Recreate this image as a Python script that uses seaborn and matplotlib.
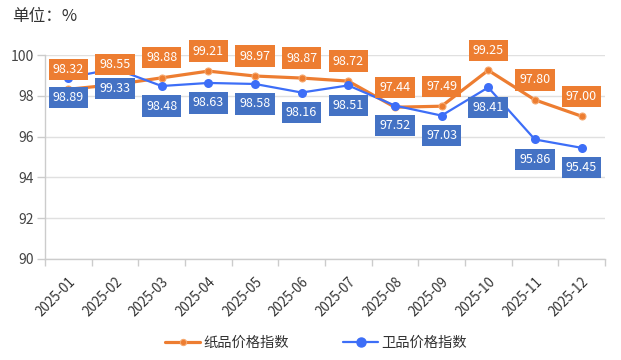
import matplotlib
matplotlib.use("Agg")
import matplotlib.pyplot as plt
import seaborn as sns
import pandas as pd
from matplotlib.lines import Line2D

months = ["2025-01", "2025-02", "2025-03", "2025-04", "2025-05", "2025-06",
          "2025-07", "2025-08", "2025-09", "2025-10", "2025-11", "2025-12"]
paper_index = [98.32, 98.55, 98.88, 99.21, 98.97, 98.87, 98.72, 97.44, 97.49, 99.25, 97.80, 97.00]
hygiene_index = [98.89, 99.33, 98.48, 98.63, 98.58, 98.16, 98.51, 97.52, 97.03, 98.41, 95.86, 95.45]
paper_name = "纸品价格指数"
hygiene_name = "卫品价格指数"

ORANGE = "#ED7D31"
ORANGE_EDGE = "#F5A86E"
BLUE = "#3D6EF7"
BLUE_BOX = "#4472C4"

sns.set_theme(style="white")
plt.rcParams["font.family"] = ["Noto Sans CJK SC", "DejaVu Sans"]

fig = plt.figure(figsize=(6.21, 3.6), dpi=100)
ax = fig.add_axes([0.0725, 0.2806, 0.9015, 0.5666])

df = pd.DataFrame({"month": months, paper_name: paper_index, hygiene_name: hygiene_index})

sns.lineplot(data=df, x="month", y=paper_name, ax=ax, color=ORANGE, linewidth=2.3,
             marker="o", markersize=5, markeredgecolor=ORANGE_EDGE, markeredgewidth=0.8,
             zorder=3, sort=False)
sns.lineplot(data=df, x="month", y=hygiene_name, ax=ax, color=BLUE, linewidth=1.6,
             marker="o", markersize=6.5, markeredgecolor=BLUE, markeredgewidth=0,
             zorder=4, sort=False)

# value labels: paper above, hygiene below
for i, v in enumerate(paper_index):
    ax.annotate(f"{v:.2f}", (i, v), xytext=(0, 20), textcoords="offset pixels",
                ha="center", va="center", color="white", fontsize=9, zorder=6,
                bbox=dict(boxstyle="square,pad=0.33", fc=ORANGE, ec="none"))
for i, v in enumerate(hygiene_index):
    ax.annotate(f"{v:.2f}", (i, v), xytext=(0, -20), textcoords="offset pixels",
                ha="center", va="center", color="white", fontsize=9, zorder=5,
                bbox=dict(boxstyle="square,pad=0.33", fc=BLUE_BOX, ec="none"))

ax.set_ylim(90, 100)
ax.set_yticks([90, 92, 94, 96, 98, 100])
ax.set_xlim(-0.5, len(months) - 0.5)
ax.set_xlabel("")
ax.set_ylabel("")

# labels at band centres, tick marks at band boundaries
ax.set_xticks(range(len(months)))
ax.set_xticklabels(months, rotation=45, ha="right", rotation_mode="anchor")
ax.set_xticks([i - 0.5 for i in range(len(months) + 1)], minor=True)
ax.tick_params(axis="x", which="major", length=0, pad=11, labelsize=9.6, labelcolor="#333333")
ax.tick_params(axis="x", which="minor", length=5, width=1, color="#cccccc", bottom=True)
ax.tick_params(axis="y", which="major", length=6, width=1, color="#cccccc", left=True,
               labelsize=10, labelcolor="#444444", pad=2)

ax.grid(axis="y", color="#e0e0e0", linewidth=1)
ax.grid(axis="x", visible=False)
for s in ["top", "right"]:
    ax.spines[s].set_visible(False)
for s in ["left", "bottom"]:
    ax.spines[s].set_color("#cccccc")
    ax.spines[s].set_linewidth(1)

fig.text(12 / 621, 1 - 17 / 360, "单位：%", fontsize=12, color="#333333", va="center", ha="left")

handles = [
    Line2D([], [], color=ORANGE, linewidth=2.3, marker="o", markersize=4.5,
           markeredgecolor=ORANGE_EDGE, markeredgewidth=0.8),
    Line2D([], [], color=BLUE, linewidth=1.6, marker="o", markersize=6.5),
]
fig.legend(handles, [paper_name, hygiene_name], loc="center", bbox_to_anchor=(316 / 621, 1 - 343 / 360),
           ncol=2, frameon=False, fontsize=10.3, handlelength=2.45, columnspacing=3.8,
           handletextpad=0.2, labelcolor="#333333")

fig.savefig("out.png", dpi=100)
